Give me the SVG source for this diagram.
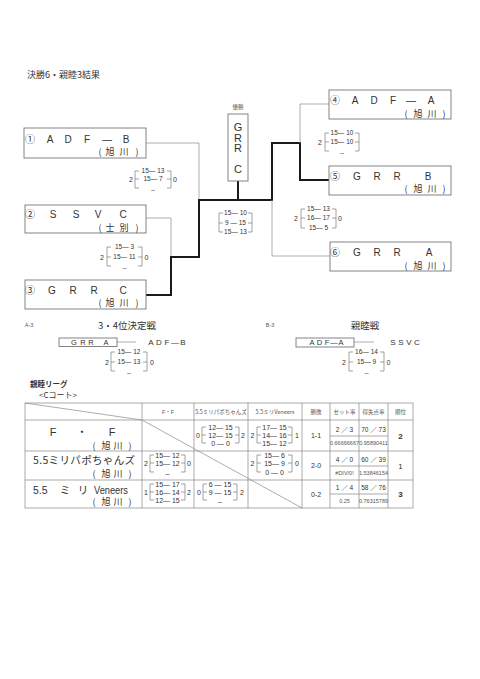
<svg xmlns="http://www.w3.org/2000/svg" width="480" height="679" viewBox="0 0 480 679">
<style>
text{font-family:"Liberation Sans","Noto Sans CJK JP",sans-serif;fill:#333}
.j{font-family:"Noto Sans CJK JP",sans-serif}
.m{text-anchor:middle}
.n{font-size:10px}
.sub{font-size:9px}
.s{font-size:6.5px;text-anchor:middle}
.sn{font-size:7px;text-anchor:middle}
.ts{font-size:7px;text-anchor:middle}
.tiny{font-size:5.5px;text-anchor:middle;fill:#555}
.box{fill:#fff;stroke:#777;stroke-width:0.9}
.thin{stroke:#999;stroke-width:0.8;fill:none}
.thick{stroke:#1a1a1a;stroke-width:2;fill:none}
.br{stroke:#666;stroke-width:0.6;fill:none}
.grid{stroke:#888;stroke-width:0.7;fill:none}
</style>
<rect width="480" height="679" fill="#fff"/>
<text x="27" y="78" font-size="9" class="j">決勝6・親睦3結果</text>

<g id="connectors">
<path class="thin" d="M146 143H199V200"/>
<path class="thin" d="M146 218H171V257"/>
<path class="thick" d="M146 295H171V257H199V200H272V143H300V180H329"/>
<path class="thick" d="M238 181V200"/>
<path class="thin" d="M300 143V104H329"/>
<path class="thin" d="M272 200V256H330"/>
<path class="thin" d="M117 342H136"/>
<path class="thin" d="M354 342H374"/>
</g>

<g id="n1">
<rect class="box" x="24" y="128" width="122" height="30"/>
<text class="n m" x="30 50 68 87 107 126" y="142.5">①ADF—B</text>
<text class="sub m j" x="100 110 124 137" y="155">(旭川)</text>
</g>
<g id="n2">
<rect class="box" x="25" y="205" width="121" height="28"/>
<text class="n m" x="30 53 76 98 123" y="217.5">②SSVC</text>
<text class="sub m j" x="100 110 124 137" y="231">(士別)</text>
</g>
<g id="n3">
<rect class="box" x="25" y="280" width="121" height="29"/>
<text class="n m" x="30 52 73 94 123" y="293.5">③GRRC</text>
<text class="sub m j" x="100 110 124 137" y="306">(旭川)</text>
</g>
<g id="n4">
<rect class="box" x="329" y="90" width="122" height="29"/>
<text class="n m" x="335 355 374 393 411 431" y="103.5">④ADF—A</text>
<text class="sub m j" x="406 418 432 444" y="117">(旭川)</text>
</g>
<g id="n5">
<rect class="box" x="329" y="166" width="122" height="29"/>
<text class="n m" x="335 357 377 397 428" y="179.5">⑤GRRB</text>
<text class="sub m j" x="406 418 432 444" y="192">(旭川)</text>
</g>
<g id="n6">
<rect class="box" x="330" y="242" width="121" height="29"/>
<text class="n m" x="335 357 377 397 429" y="255.5">⑥GRRA</text>
<text class="sub m j" x="406 418 432 444" y="269">(旭川)</text>
</g>
<g id="winner">
<text class="tiny j" x="238" y="109">優勝</text>
<rect class="box" x="228" y="114" width="20" height="67"/>
<text class="m" font-size="11" x="238" y="131">G</text>
<text class="m" font-size="11" x="238" y="141.5">R</text>
<text class="m" font-size="11" x="238" y="152">R</text>
<text class="m" font-size="11" x="238" y="173">C</text>
</g>

<!-- scores bracket -->
<g id="scoreA">
<path class="br" d="M139 171H135V188H139M135 179H139M167 171H171V188H167M171 179H167"/>
<text class="s" x="153" y="173.3">15— 13</text>
<text class="s" x="153" y="181.3">15— 7</text>
<text class="s" x="153" y="189">_</text>
<text class="sn" x="131" y="181.5">2</text>
<text class="sn" x="175" y="181.5">0</text>
</g>
<g id="scoreB">
<path class="br" d="M111 247H107V266H111M107 257H111M138 247H142V266H138M142 257H138"/>
<text class="s" x="124.5" y="249.3">15— 3</text>
<text class="s" x="124.5" y="259.3">15— 11</text>
<text class="s" x="124.5" y="267">_</text>
<text class="sn" x="102" y="259.5">2</text>
<text class="sn" x="146.5" y="259.5">0</text>
</g>
<g id="scoreFinal">
<path class="br" d="M223 213H219V232H223M219 223H223M248 213H252V232H248M252 223H248"/>
<text class="s" x="235.5" y="215.3">15— 10</text>
<text class="s" x="235.5" y="225.3">9 — 15</text>
<text class="s" x="235.5" y="234.3">15— 13</text>
</g>
<g id="scoreD">
<path class="br" d="M329 133H325V151H329M325 142H329M355 133H359V151H355M359 142H355"/>
<text class="s" x="342" y="135.3">15— 10</text>
<text class="s" x="342" y="144.3">15— 10</text>
<text class="s" x="342" y="152">_</text>
<text class="sn" x="320" y="144.5">2</text>
</g>
<g id="scoreE">
<path class="br" d="M305 209H301V228H305M301 218H305M332 209H336V228H332M336 218H332"/>
<text class="s" x="318.5" y="211.3">15— 13</text>
<text class="s" x="318.5" y="220.3">16— 17</text>
<text class="s" x="318.5" y="230.3">15— 5</text>
<text class="sn" x="296" y="220.5">2</text>
<text class="sn" x="340" y="220.5">0</text>
</g>

<g id="third">
<text class="tiny" x="29" y="327">A-3</text>
<text class="m j" font-size="9.5" x="127" y="328.5">3・4位決定戦</text>
<rect class="box" x="59" y="338" width="58" height="8.5"/>
<text class="m" font-size="7.5" x="74 83 91 106" y="345">GRRA</text>
<text class="m" font-size="8" x="151 159 167 175 183" y="345">ADF—B</text>
<path class="br" d="M115 352H111V371H115M111 362H115M143 352H147V371H143M147 362H143"/>
<text class="s" x="129" y="354.3">15— 12</text>
<text class="s" x="129" y="364.3">15— 13</text>
<text class="s" x="129" y="372">_</text>
<text class="sn" x="107" y="364.5">2</text>
<text class="sn" x="152" y="364.5">0</text>
</g>
<g id="friendly">
<text class="tiny" x="270" y="327">B-3</text>
<text class="m j" font-size="9.5" x="365" y="328.5">親睦戦</text>
<rect class="box" x="296" y="338" width="58" height="9"/>
<text class="m" font-size="7.5" x="312 319.5 327 334 341" y="345">ADF—A</text>
<text class="m" font-size="8" x="393 401 409 417" y="345">SSVC</text>
<path class="br" d="M353 352H349V371H353M349 362H353M380 352H384V371H380M384 362H380"/>
<text class="s" x="366.5" y="354.3">16— 14</text>
<text class="s" x="366.5" y="364.3">15— 9</text>
<text class="s" x="366.5" y="372">_</text>
<text class="sn" x="344" y="364.5">2</text>
<text class="sn" x="388.5" y="364.5">0</text>
</g>

<g id="league">
<text class="j" font-size="7.5" font-weight="bold" x="30" y="387">親睦リーグ</text>
<text class="j" font-size="8" x="39" y="397.5">&lt;Cコート&gt;</text>
<rect class="grid" x="25" y="403" width="388" height="105"/>
<path class="grid" d="M25 420H413M25 451H413M25 480H413M142 403V508M194 403V508M248 403V508M302 403V508M330 403V508M359 403V508M388 403V508M330 436H388M330 466H388M330 494H388"/>
<path class="grid" d="M25 403L142 420L302 508" stroke="#444"/>
<text class="tiny" x="168" y="413.5">F・F</text>
<text class="tiny j" x="221" y="413.5" font-size="5">5.5ミリパポちゃんズ</text>
<text class="tiny j" x="275" y="413.5" font-size="5">5.5ミリVeneers</text>
<text class="tiny j" x="316" y="413.5">勝敗</text>
<text class="tiny j" x="344.5" y="413.5">セット率</text>
<text class="tiny j" x="373.5" y="413.5">得失点率</text>
<text class="tiny j" x="400.5" y="413.5">順位</text>

<text class="m" font-size="11" x="53 82 112" y="436">F・F</text>
<text class="sub m j" x="94 106 118 130" y="449">(旭川)</text>
<text class="j" font-size="10.5" x="33" y="464" textLength="102" lengthAdjust="spacing">5.5ミリパポちゃんズ</text>
<text class="sub m j" x="94 106 118 130" y="477">(旭川)</text>
<text font-size="10.5" x="33" y="494">5.5</text>
<text class="j m" font-size="10.5" x="65" y="494">ミ</text>
<text class="j m" font-size="10.5" x="83" y="494">リ</text>
<text font-size="10" x="94" y="494" textLength="34" lengthAdjust="spacingAndGlyphs">Veneers</text>
<text class="sub m j" x="94 106 118 130" y="505">(旭川)</text>

<!-- R1C2 -->
<path class="br" d="M206 427H202V443H206M202 435H206M235 427H239V443H235M239 435H235"/>
<text class="ts" x="220.5" y="429.5">12— 15</text>
<text class="ts" x="220.5" y="437.5">12— 15</text>
<text class="ts" x="220.5" y="445.5">0 — 0</text>
<text class="sn" x="198" y="437.5">0</text>
<text class="sn" x="243" y="437.5">2</text>
<!-- R1C3 -->
<path class="br" d="M261 427H257V443H261M257 435H261M288 427H292V443H288M292 435H288"/>
<text class="ts" x="274.5" y="429.5">17— 15</text>
<text class="ts" x="274.5" y="437.5">14— 16</text>
<text class="ts" x="274.5" y="445.5">15— 12</text>
<text class="sn" x="252.5" y="437.5">2</text>
<text class="sn" x="297" y="437.5">1</text>
<!-- R2C1 -->
<path class="br" d="M154 455H150V472H154M150 463H154M181 455H185V472H181M185 463H181"/>
<text class="ts" x="167.5" y="457.5">15— 12</text>
<text class="ts" x="167.5" y="465.5">15— 12</text>
<text class="ts" x="167.5" y="473">_</text>
<text class="sn" x="146" y="465.5">2</text>
<text class="sn" x="189" y="465.5">0</text>
<!-- R2C3 -->
<path class="br" d="M261 455H257V472H261M257 463H261M288 455H292V472H288M292 463H288"/>
<text class="ts" x="274.5" y="457.5">15— 6</text>
<text class="ts" x="274.5" y="465.5">15— 9</text>
<text class="ts" x="274.5" y="474.5">0 — 0</text>
<text class="sn" x="252.5" y="465.5">2</text>
<text class="sn" x="297" y="465.5">0</text>
<!-- R3C1 -->
<path class="br" d="M154 484H150V500H154M150 492H154M181 484H185V500H181M185 492H181"/>
<text class="ts" x="167.5" y="486.5">15— 17</text>
<text class="ts" x="167.5" y="494.5">16— 14</text>
<text class="ts" x="167.5" y="502.5">12— 15</text>
<text class="sn" x="146" y="494.5">1</text>
<text class="sn" x="189" y="494.5">2</text>
<!-- R3C2 -->
<path class="br" d="M207 484H203V500H207M203 492H207M233 484H237V500H233M237 492H233"/>
<text class="ts" x="220" y="486.5">6 — 15</text>
<text class="ts" x="220" y="494.5">9 — 15</text>
<text class="ts" x="220" y="501">_</text>
<text class="sn" x="199" y="494.5">0</text>
<text class="sn" x="242" y="494.5">2</text>

<!-- stats -->
<text class="ts" x="316" y="438">1-1</text>
<text class="s" x="344.5" y="432">2 ／ 3</text>
<text class="tiny" x="344.5" y="445" font-size="5">0.66666667</text>
<text class="s" x="373.5" y="432">70 ／ 73</text>
<text class="tiny" x="373.5" y="445" font-size="5">0.95890411</text>
<text class="m" font-size="8" font-weight="bold" x="400.5" y="438.5">2</text>

<text class="ts" x="316" y="468">2-0</text>
<text class="s" x="344.5" y="462">4 ／ 0</text>
<text class="tiny" x="344.5" y="475" font-size="5">#DIV/0!</text>
<text class="s" x="373.5" y="462">60 ／ 39</text>
<text class="tiny" x="373.5" y="475" font-size="5">1.53846154</text>
<text class="m" font-size="8" x="400.5" y="468.5">1</text>

<text class="ts" x="316" y="496.5">0-2</text>
<text class="s" x="344.5" y="490">1 ／ 4</text>
<text class="tiny" x="344.5" y="503" font-size="5">0.25</text>
<text class="s" x="373.5" y="490">58 ／ 76</text>
<text class="tiny" x="373.5" y="503" font-size="5">0.76315789</text>
<text class="m" font-size="8" font-weight="bold" x="400.5" y="497">3</text>
</g>
</svg>
